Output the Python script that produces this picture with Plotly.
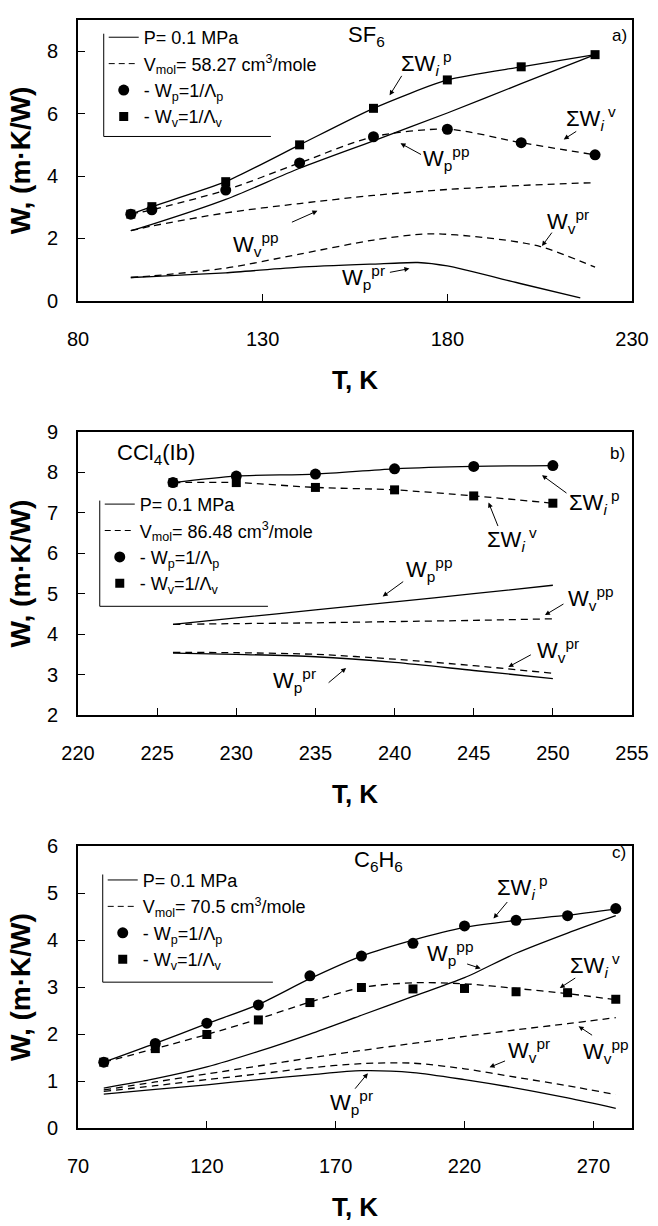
import plotly.graph_objects as go

FONT = "Liberation Sans, Arial, Helvetica, sans-serif"

# ---------------- data: a) SF6 ----------------
sf6_T = [94.3, 100, 120, 140, 160, 180, 200, 220]
sf6_sumWp = [2.78, 3.02, 3.82, 5.00, 6.17, 7.08, 7.50, 7.89]   # squares, solid
sf6_sumWv = [2.78, 2.92, 3.55, 4.42, 5.26, 5.50, 5.07, 4.68]   # circles, dashed
sf6_Wpp = [2.25, 2.45, 3.25, 4.25, 5.13, 6.02, 6.96, 7.89]
sf6_Wvpp = [2.25, 2.40, 2.82, 3.12, 3.38, 3.57, 3.70, 3.79]
sf6_Wvpr_T = [94.3, 100, 120, 140, 160, 175, 190, 205, 220]
sf6_Wvpr = [0.75, 0.80, 1.05, 1.50, 1.95, 2.15, 2.03, 1.75, 1.08]
sf6_Wppr_T = [94.3, 100, 120, 140, 160, 172, 180, 200, 216]
sf6_Wppr = [0.75, 0.78, 0.90, 1.08, 1.18, 1.23, 1.12, 0.55, 0.10]

# ---------------- data: b) CCl4(Ib) ----------------
ccl4_T = [226, 230, 235, 240, 245, 250]
ccl4_sumWp = [7.75, 7.91, 7.96, 8.09, 8.15, 8.17]   # circles, solid
ccl4_sumWv = [7.75, 7.75, 7.63, 7.57, 7.42, 7.24]   # squares, dashed
ccl4_Wpp = [4.24, 4.40, 4.60, 4.80, 5.00, 5.21]
ccl4_Wvpp = [4.24, 4.26, 4.28, 4.31, 4.34, 4.38]
ccl4_Wvpr = [3.55, 3.54, 3.50, 3.38, 3.22, 3.03]
ccl4_Wppr = [3.53, 3.50, 3.44, 3.30, 3.10, 2.90]

# ---------------- data: c) C6H6 ----------------
c6_T = [80, 100, 120, 140, 160, 180, 200, 220, 240, 260, 278.7]
c6_sumWp_pts = [1.40, 1.80, 2.23, 2.62, 3.24, 3.66, 3.93, 4.30, 4.42, 4.52, 4.67]
c6_sumWv_pts = [1.40, 1.69, 1.99, 2.30, 2.67, 2.99, 2.96, 2.97, 2.90, 2.88, 2.74]
c6_sumWp_fit = [1.40, 1.80, 2.22, 2.63, 3.18, 3.66, 4.00, 4.27, 4.42, 4.53, 4.66]
c6_sumWv_fit = [1.40, 1.69, 1.99, 2.32, 2.68, 2.99, 3.09, 3.07, 2.97, 2.86, 2.73]
c6_Wpp = [0.85, 1.05, 1.30, 1.63, 2.00, 2.40, 2.80, 3.20, 3.72, 4.15, 4.52]
c6_Wvpp = [0.81, 0.98, 1.15, 1.32, 1.49, 1.65, 1.80, 1.95, 2.09, 2.22, 2.35]
c6_Wvpr = [0.78, 0.90, 1.03, 1.15, 1.28, 1.37, 1.38, 1.26, 1.08, 0.90, 0.71]
c6_Wppr = [0.72, 0.82, 0.92, 1.03, 1.13, 1.22, 1.18, 1.03, 0.85, 0.64, 0.42]

# ---------------- layout helpers (page pixel -> paper) ----------------
FIG_W, FIG_H = 658, 1226
PL, PR, PT, PB = 78, 638, 9, 1141


def PX(px):
    return (px - PL) / (PR - PL)


def PY(py):
    return 1 - (py - PT) / (PB - PT)


DASH = "7px,5px"
LW = 1.3

fig = go.Figure()


def curve(x, y, dash, xa, ya, smooth=0.8):
    fig.add_trace(go.Scatter(
        x=x, y=y, mode="lines", xaxis=xa, yaxis=ya, showlegend=False,
        hoverinfo="skip",
        line=dict(color="black", width=LW, dash=dash, shape="spline", smoothing=smooth)))


def points(x, y, symbol, size, xa, ya):
    fig.add_trace(go.Scatter(
        x=x, y=y, mode="markers", xaxis=xa, yaxis=ya, showlegend=False,
        marker=dict(symbol=symbol, size=size, color="black")))


# panel a
curve(sf6_T, sf6_sumWp, "solid", "x", "y", 0.6)
curve(sf6_T, sf6_sumWv, DASH, "x", "y", 0.8)
curve(sf6_T, sf6_Wpp, "solid", "x", "y")
curve(sf6_T, sf6_Wvpp, DASH, "x", "y")
curve(sf6_Wvpr_T, sf6_Wvpr, DASH, "x", "y")
curve(sf6_Wppr_T, sf6_Wppr, "solid", "x", "y", 0.6)
points(sf6_T, sf6_sumWp, "square", 9, "x", "y")
points(sf6_T, sf6_sumWv, "circle", 11, "x", "y")

# panel b
curve(ccl4_T, ccl4_sumWp, "solid", "x2", "y2")
curve(ccl4_T, ccl4_sumWv, DASH, "x2", "y2")
curve(ccl4_T, ccl4_Wpp, "solid", "x2", "y2")
curve(ccl4_T, ccl4_Wvpp, DASH, "x2", "y2")
curve(ccl4_T, ccl4_Wvpr, DASH, "x2", "y2")
curve(ccl4_T, ccl4_Wppr, "solid", "x2", "y2")
points(ccl4_T, ccl4_sumWv, "square", 9, "x2", "y2")
points(ccl4_T, ccl4_sumWp, "circle", 11, "x2", "y2")

# panel c
curve(c6_T, c6_sumWp_fit, "solid", "x3", "y3")
curve(c6_T, c6_sumWv_fit, DASH, "x3", "y3")
curve(c6_T, c6_Wpp, "solid", "x3", "y3")
curve(c6_T, c6_Wvpp, DASH, "x3", "y3")
curve(c6_T, c6_Wvpr, DASH, "x3", "y3")
curve(c6_T, c6_Wppr, "solid", "x3", "y3")
points(c6_T, c6_sumWv_pts, "square", 9, "x3", "y3")
points(c6_T, c6_sumWp_pts, "circle", 11, "x3", "y3")

# legend entries (one legend per panel)
vmol = ["58.27", "86.48", "70.5"]
legend_ids = ["legend", "legend2", "legend3"]
axes_ids = [("x", "y"), ("x2", "y2"), ("x3", "y3")]
for lid, (xa, ya), vm in zip(legend_ids, axes_ids, vmol):
    fig.add_trace(go.Scatter(x=[None], y=[None], mode="lines", xaxis=xa, yaxis=ya,
                             line=dict(color="black", width=1), name="P= 0.1 MPa", legend=lid))
    fig.add_trace(go.Scatter(x=[None], y=[None], mode="lines", xaxis=xa, yaxis=ya,
                             line=dict(color="black", width=1, dash="6px,4px"),
                             name="V<sub>mol</sub>= " + vm + " cm<sup>3</sup>/mole", legend=lid))
    fig.add_trace(go.Scatter(x=[None], y=[None], mode="markers", xaxis=xa, yaxis=ya,
                             marker=dict(symbol="circle", size=11, color="black"),
                             name="- W<sub>p</sub>=1/Λ<sub>p</sub>", legend=lid))
    fig.add_trace(go.Scatter(x=[None], y=[None], mode="markers", xaxis=xa, yaxis=ya,
                             marker=dict(symbol="square", size=9, color="black"),
                             name="- W<sub>v</sub>=1/Λ<sub>v</sub>", legend=lid))

# legend frame (left + bottom lines): x, top, bottom, right  (page px)
legend_frames = [(104, 23, 128, 273), (100, 500, 608, 270), (103, 882, 992, 275)]
# legend box tops (page px)
legend_tops = [(104, 8), (100, 485), (103, 869)]


def legend_cfg(x, ytop):
    return dict(x=PX(x), y=PY(ytop), xanchor="left", yanchor="top",
                bgcolor="rgba(0,0,0,0)", borderwidth=0, tracegroupgap=0,
                itemwidth=30, traceorder="normal",
                font=dict(family=FONT, size=18, color="black"))


shapes = []
for (lx, ytop, ybot, rx) in legend_frames:
    shapes.append(dict(type="line", xref="paper", yref="paper",
                       x0=PX(lx), x1=PX(lx), y0=PY(ytop), y1=PY(ybot),
                       line=dict(color="black", width=1)))
    shapes.append(dict(type="line", xref="paper", yref="paper",
                       x0=PX(lx), x1=PX(rx), y0=PY(ybot), y1=PY(ybot),
                       line=dict(color="black", width=1)))

# annotations: labels and arrows (page pixel positions)
SWp = "ΣW<sub><i>i</i></sub><sup> p</sup>"
SWv = "ΣW<sub><i>i</i></sub><sup> v</sup>"
Wppp = "W<sub>p</sub><sup>pp</sup>"
Wvpp = "W<sub>v</sub><sup>pp</sup>"
Wvpr = "W<sub>v</sub><sup>pr</sup>"
Wppr = "W<sub>p</sub><sup>pr</sup>"

labels = [
    ("SF<sub>6</sub>", 370, 25, 22), ("a)", 625, 25, 17),
    (SWp, 430, 53, 22), (SWv, 597, 110, 22), (Wppp, 450, 150, 22),
    (Wvpr, 573, 215, 22), (Wppr, 367, 272, 22), (Wvpp, 258, 238, 22),
    ("CCl<sub>4</sub>(Ib)", 157, 452, 22), ("b)", 623, 452, 17),
    (SWp, 600, 502, 22), (SWv, 517, 540, 22), (Wppp, 433, 570, 22),
    (Wvpp, 597, 600, 22), (Wvpr, 563, 653, 22), (Wppr, 297, 684, 22),
    ("C<sub>6</sub>H<sub>6</sub>", 382, 868, 22), ("c)", 625, 860, 17),
    (SWp, 527, 895, 22), (Wppp, 454, 963, 22), (SWv, 601, 975, 22),
    (Wvpp, 612, 1063, 22), (Wvpr, 534, 1062, 22), (Wppr, 354, 1115, 22),
]
arrows = [
    (406, 65, 393, 86), (583, 122, 569, 131), (426, 147, 404, 135),
    (558, 225, 547, 240), (392, 267, 413, 263), (293, 216, 320, 204),
    (573, 493, 547, 474), (503, 527, 493, 502), (408, 582, 386, 598),
    (570, 605, 550, 617), (537, 657, 513, 670), (330, 687, 349, 671),
    (513, 909, 498, 927), (470, 973, 485, 978), (582, 987, 565, 998),
    (599, 1047, 584, 1037), (511, 1072, 494, 1079), (357, 1102, 371, 1085),
]

annotations = []
for (txt, cx, cy, fs) in labels:
    annotations.append(dict(text=txt, x=PX(cx), y=PY(cy), xref="paper", yref="paper",
                            showarrow=False, xanchor="center", yanchor="middle",
                            font=dict(family=FONT, size=fs, color="black")))
for (tx, ty, hx, hy) in arrows:
    annotations.append(dict(text="", x=PX(hx), y=PY(hy), xref="paper", yref="paper",
                            ax=tx - hx, ay=ty - hy, showarrow=True, arrowhead=2,
                            arrowsize=1, arrowwidth=1, arrowcolor="black"))

# axes
common = dict(showline=True, linecolor="black", linewidth=2, mirror=True,
              ticks="inside", ticklen=7, tickwidth=1.3, tickcolor="black",
              showgrid=False, zeroline=False,
              tickfont=dict(family=FONT, size=20, color="black"))
xtitle = dict(text="<b>T, K</b>", font=dict(family=FONT, size=26, color="black"), standoff=22)
ytitle = dict(text="<b>W, (m·K/W)</b>", font=dict(family=FONT, size=28, color="black"), standoff=8)

dom_a = [PY(296), PY(9)]
dom_b = [PY(719), PY(430)]
dom_c = [PY(1141), PY(853)]

XSO = 19  # x tick label standoff
YSO = 14  # y tick label standoff

fig.update_layout(
    width=FIG_W, height=FIG_H,
    margin=dict(l=PL, r=FIG_W - PR, t=PT, b=FIG_H - PB),
    paper_bgcolor="white", plot_bgcolor="white",
    font=dict(family=FONT, color="black"),
    xaxis=dict(common, range=[80, 230], tick0=80, dtick=50, domain=[0, 1], anchor="y",
               ticklabelstandoff=XSO, title=xtitle),
    yaxis=dict(common, range=[0, 9], tick0=0, dtick=2, domain=dom_a, anchor="x",
               ticklabelstandoff=YSO, title=ytitle),
    xaxis2=dict(common, range=[220, 255], tick0=220, dtick=5, domain=[0, 1], anchor="y2",
                ticklabelstandoff=XSO, title=xtitle),
    yaxis2=dict(common, range=[2, 9], tick0=2, dtick=1, domain=dom_b, anchor="x2",
                ticklabelstandoff=YSO, title=ytitle),
    xaxis3=dict(common, range=[70, 285], tick0=70, dtick=50, domain=[0, 1], anchor="y3",
                ticklabelstandoff=XSO, title=xtitle),
    yaxis3=dict(common, range=[0, 6], tick0=0, dtick=1, domain=dom_c, anchor="x3",
                ticklabelstandoff=YSO, title=ytitle),
    legend=legend_cfg(*legend_tops[0]),
    legend2=legend_cfg(*legend_tops[1]),
    legend3=legend_cfg(*legend_tops[2]),
    shapes=shapes,
    annotations=annotations,
)

fig.write_html("out.html",
               config={"displayModeBar": False},
               post_script="document.body.style.margin='0';document.body.style.overflow='hidden';")
